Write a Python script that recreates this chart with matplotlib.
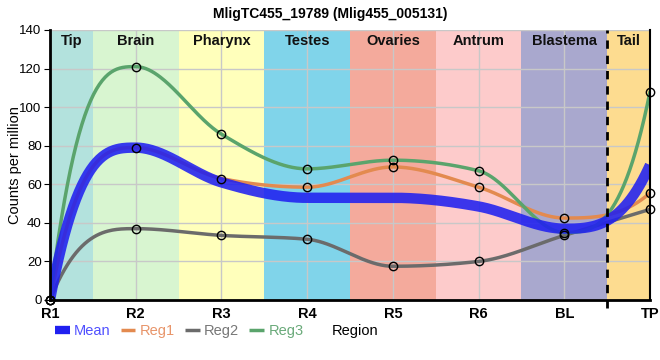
import numpy as np
import matplotlib
matplotlib.use("Agg")
import matplotlib.pyplot as plt
from matplotlib.lines import Line2D

plt.rcParams["font.family"] = ["Liberation Sans", "DejaVu Sans"]

title = "MligTC455_19789 (Mlig455_005131)"
categories = ["R1", "R2", "R3", "R4", "R5", "R6", "BL", "TP"]
mean_vals = [0, 79, 61, 53, 53, 48.5, 37, 70]
reg1 = [0, 79, 63, 58.5, 69, 58.5, 42.5, 55.5]
reg2 = [0, 37, 33.5, 31.5, 17.5, 20, 33.5, 47]
reg3 = [0, 121, 86, 68, 72.5, 67, 35, 108]
region_names = ["Tip", "Brain", "Pharynx", "Testes", "Ovaries", "Antrum", "Blastema", "Tail"]
region_colors = ["#b3e2dd", "#d8f5d0", "#ffffbb", "#80d4ea", "#f4aa9c", "#fdcbcb", "#a9a8ce", "#fddc90"]


def monotone_curve(y, n=60):
    y = np.asarray(y, float)
    k = len(y)
    d = np.diff(y)
    m = np.zeros(k)
    for i in range(1, k - 1):
        s0, s1 = d[i - 1], d[i]
        p = (s0 + s1) / 2
        m[i] = (np.sign(s0) + np.sign(s1)) * min(abs(s0), abs(s1), 0.5 * abs(p))
    m[0] = 3 * d[0] - 2 * m[1]
    m[-1] = 3 * d[-1] - 2 * m[-2]
    xs, ys = [], []
    t = np.linspace(0, 1, n)
    h00 = 2 * t**3 - 3 * t**2 + 1
    h10 = t**3 - 2 * t**2 + t
    h01 = -2 * t**3 + 3 * t**2
    h11 = t**3 - t**2
    for i in range(k - 1):
        xs.append(i + t)
        ys.append(h00 * y[i] + h10 * m[i] + h01 * y[i + 1] + h11 * m[i + 1])
    return np.concatenate(xs), np.concatenate(ys)


fig = plt.figure(figsize=(6.6, 3.6), dpi=100)
ax = fig.add_axes([50 / 660, 60 / 360, 600 / 660, 270 / 360])

x = np.arange(len(categories))
bounds = [0, 0.5, 1.5, 2.5, 3.5, 4.5, 5.5, 6.5, 7]
for i, (name, col) in enumerate(zip(region_names, region_colors)):
    ax.axvspan(bounds[i], bounds[i + 1], color=col, zorder=0, lw=0)
    ax.text((bounds[i] + bounds[i + 1]) / 2, 138, name, ha="center", va="top",
            fontsize=10.5, fontweight="bold", color="#111111", zorder=5)

ax.set_xlim(0, 7)
ax.set_ylim(0, 140)
ax.set_yticks(range(0, 141, 20))
ax.set_xticks(x)
ax.set_xticklabels(categories, fontsize=10.5, fontweight="bold")
ax.tick_params(axis="y", labelsize=9.5, length=4, pad=2)
ax.tick_params(axis="x", length=0, pad=5)
ax.grid(True, color="#c8c8c8", lw=1, zorder=0.5)
ax.set_axisbelow(True)

for vals, col in [(reg2, "#6b6b6b"), (reg1, "#e38a4f"), (reg3, "#5aa46c")]:
    cx, cy = monotone_curve(vals)
    ax.plot(cx, cy, color=col, lw=2.5, zorder=3, solid_capstyle="round")

cx, cy = monotone_curve(mean_vals)
ax.plot(cx, cy, color="#2020f0", lw=7.5, alpha=0.88, zorder=3.5, solid_capstyle="butt")

for vals in [reg1, reg2, reg3]:
    ax.plot(x, vals, ls="none", marker="o", ms=6, mfc="none", mec="black", mew=1,
            zorder=4, clip_on=False)

ax.plot([6.5, 6.5], [-4, 140], color="black", lw=2, ls=(0, (3, 2.5)), zorder=4.5,
        clip_on=False)

for s in ["left", "bottom"]:
    ax.spines[s].set_linewidth(2)
ax.spines["right"].set_linewidth(1.5)
ax.spines["top"].set_visible(False)
for s in ["left", "bottom", "right"]:
    ax.spines[s].set_zorder(6)

ax.set_ylabel("Counts per million", fontsize=10.5)
ax.yaxis.set_label_coords(-28 / 600, 0.5)

fig.text(330 / 660, 353 / 360, title, ha="center", va="top", fontsize=10, fontweight="bold")

handles = [Line2D([], [], color="#2020f0", lw=6, solid_capstyle="butt"),
           Line2D([], [], color="#e38a4f", lw=2.5, solid_capstyle="butt"),
           Line2D([], [], color="#6b6b6b", lw=2.5, solid_capstyle="butt"),
           Line2D([], [], color="#5aa46c", lw=2.5, solid_capstyle="butt")]
labels = ["Mean", "Reg1", "Reg2", "Reg3"]
fig.legend(handles, labels, loc="center left", bbox_to_anchor=(55 / 660, 29 / 360), ncol=4,
           frameon=False, handlelength=1.0, handletextpad=0.3, columnspacing=0.7,
           borderpad=0, borderaxespad=0,
           labelcolor=["#5050ff", "#e8956a", "#777777", "#6aaa7a"],
           prop={"family": ["Liberation Sans"], "size": 10.5})
fig.text(332 / 660, 29 / 360, "Region", ha="left", va="center", fontsize=10.5)

fig.savefig("out.png", dpi=100)
